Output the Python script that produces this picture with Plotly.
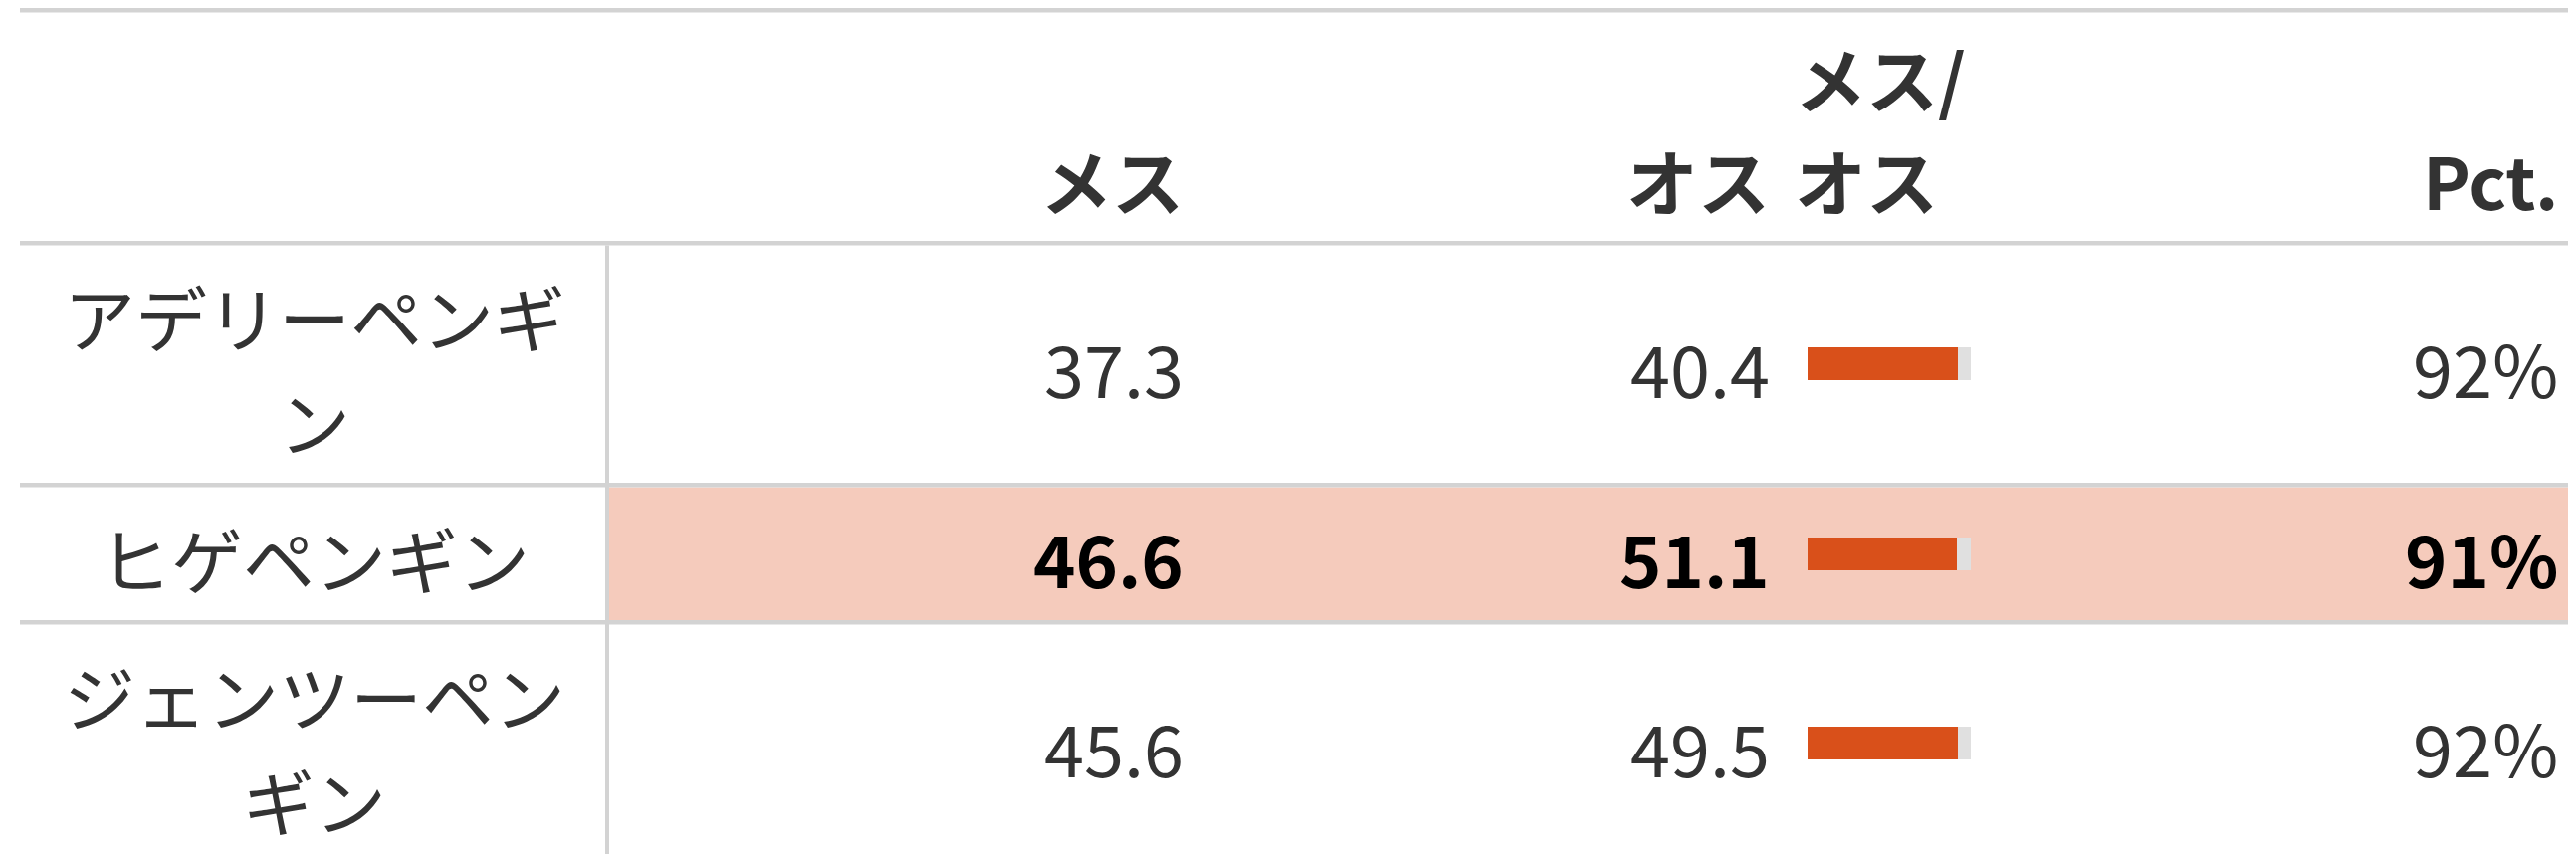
import plotly.graph_objects as go

# ---------------- data ----------------
species = ["アデリーペンギン", "ヒゲペンギン", "ジェンツーペンギン"]
female_bill = [37.3, 46.6, 45.6]
male_bill = [40.4, 51.1, 49.5]
col_headers = ["メス", "オス", "メス/オス", "Pct."]
highlight_species = "ヒゲペンギン"

# ---------------- layout / style constants ----------------
W, H = 2588, 866
PAGE_M = 8  # browser default body margin
FONT = "Noto Sans CJK JP"
FS = 72
TXT = "#333333"
HL_TXT = "#000000"
LINE_C = "#d3d3d3"
HL_BG = "#f5cbbc"
BAR_C = "#d9501a"
BAR_BG = "#e0e0e0"

TABLE_X0, TABLE_X1 = 20, 2580
SEP_X = 610
LABEL_CX = 316
F_RIGHT = 1190
M_RIGHT = 1779
BAR_X0, BAR_W, BAR_H = 1816, 164, 33
BAR_HDR_X = 1802
PCT_RIGHT = 2571

TOP_Y = 10.3
HDR_Y = 244.3
LINE_H = 105
PAD = 33
WRAP = 7
LW = 4.6


def wrap(s, n=WRAP):
    return [s[i:i + n] for i in range(0, len(s), n)]


ratios = [f / m for f, m in zip(female_bill, male_bill)]
pcts = [f"{round(r * 100)}%" for r in ratios]

# row geometry
rows = []
y = HDR_Y
for sp in species:
    lines = wrap(sp)
    h = len(lines) * LINE_H + PAD
    rows.append((y, y + h, lines))
    y += h

fig = go.Figure()
shapes = []
ann = []

# highlight row background
for i, sp in enumerate(species):
    if sp == highlight_species:
        y0, y1, _ = rows[i]
        shapes.append(dict(type="rect", xref="x", yref="y", x0=SEP_X + 2, x1=TABLE_X1,
                           y0=y0 + LW / 2, y1=y1 - LW / 2, fillcolor=HL_BG,
                           line=dict(width=0), layer="below"))

# horizontal lines
hlines = [TOP_Y, HDR_Y] + [r[1] for r in rows]
for yy in hlines:
    shapes.append(dict(type="line", xref="x", yref="y", x0=TABLE_X0, x1=TABLE_X1,
                       y0=yy, y1=yy, line=dict(color=LINE_C, width=LW), layer="below"))
# vertical separator
shapes.append(dict(type="line", xref="x", yref="y", x0=SEP_X, x1=SEP_X,
                   y0=HDR_Y + LW / 2, y1=H + 20, line=dict(color=LINE_C, width=4), layer="below"))


def add_text(x, y, text, anchor, bold=False, color=TXT):
    ann.append(dict(x=x, y=y, xref="x", yref="y", text=text, showarrow=False,
                    xanchor=anchor, yanchor="middle", borderpad=0,
                    font=dict(family=FONT, size=FS, color=color,
                              weight=700 if bold else 400)))


# headers
HDR_L2 = 179
HDR_L1 = HDR_L2 - 103
add_text(F_RIGHT, HDR_L2, col_headers[0], "right", bold=True)
add_text(M_RIGHT, HDR_L2, col_headers[1], "right", bold=True)
ratio_hdr = col_headers[2].split("/")
add_text(BAR_HDR_X, HDR_L1, ratio_hdr[0] + "/", "left", bold=True)
add_text(BAR_HDR_X, HDR_L2, ratio_hdr[1], "left", bold=True)
add_text(PCT_RIGHT, HDR_L2, col_headers[3], "right", bold=True)

# body
TXT_DY = 3
bar_y = []
for i, sp in enumerate(species):
    y0, y1, lines = rows[i]
    cy = (y0 + y1) / 2
    hl = sp == highlight_species
    col = HL_TXT if hl else TXT
    n = len(lines)
    for k, ln in enumerate(lines):
        ly = cy + (k - (n - 1) / 2) * LINE_H + TXT_DY
        add_text(LABEL_CX, ly, ln, "center", color=TXT)
    add_text(F_RIGHT, cy + TXT_DY, f"{female_bill[i]:.1f}", "right", bold=hl, color=col)
    add_text(M_RIGHT, cy + TXT_DY, f"{male_bill[i]:.1f}", "right", bold=hl, color=col)
    add_text(PCT_RIGHT, cy + TXT_DY, pcts[i], "right", bold=hl, color=col)
    bar_y.append(cy)

# bars: background track then value
fig.add_trace(go.Bar(y=bar_y, x=[BAR_W] * len(species), base=[BAR_X0] * len(species),
                     orientation="h", width=BAR_H, marker=dict(color=BAR_BG, line=dict(width=0)),
                     hoverinfo="skip", showlegend=False))
fig.add_trace(go.Bar(y=bar_y, x=[r * BAR_W for r in ratios], base=[BAR_X0] * len(species),
                     orientation="h", width=BAR_H, marker=dict(color=BAR_C, line=dict(width=0)),
                     hoverinfo="skip", showlegend=False))

# figure sits inside the page's 8px body margin; map axes to page pixels
FIG_W, FIG_H = W - 2 * PAGE_M, H - 2 * PAGE_M
fig.update_layout(
    width=FIG_W, height=FIG_H, margin=dict(l=0, r=0, t=0, b=0),
    paper_bgcolor="white", plot_bgcolor="white",
    barmode="overlay", bargap=0,
    xaxis=dict(range=[PAGE_M, PAGE_M + FIG_W], visible=False, fixedrange=True),
    yaxis=dict(range=[PAGE_M + FIG_H, PAGE_M], visible=False, fixedrange=True),
    shapes=shapes, annotations=ann,
)

fig.write_html("out.html")
